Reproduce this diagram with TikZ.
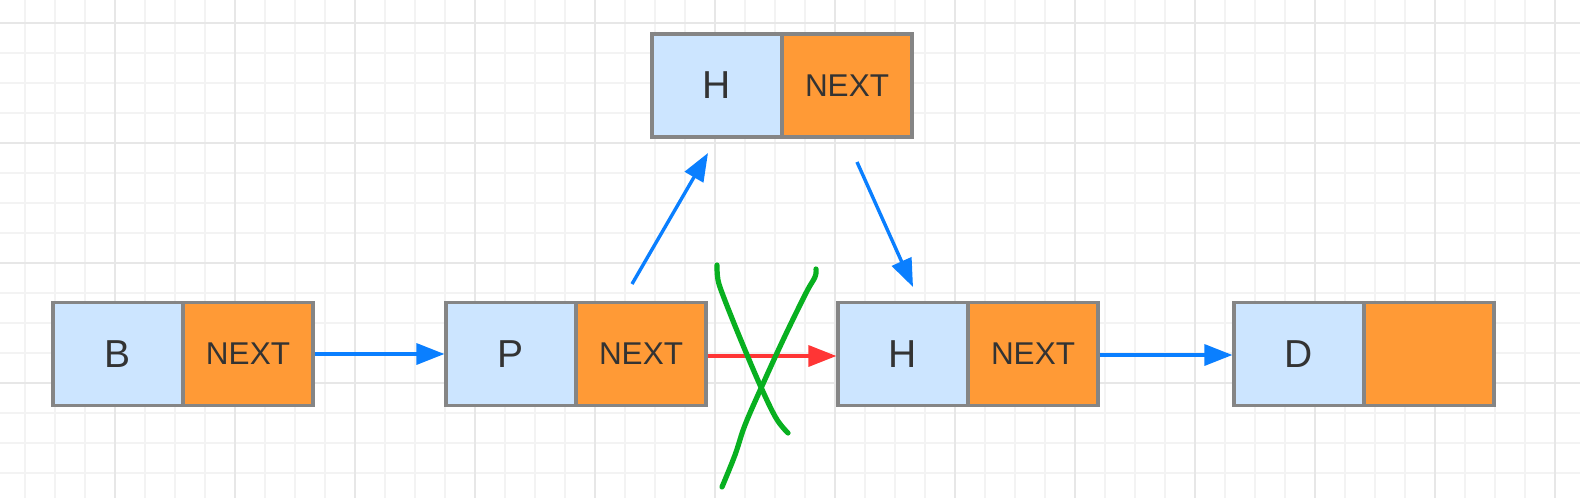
\documentclass[tikz,border=0pt]{standalone}
\usepackage{fontspec}
\setmainfont{Liberation Sans}
\usetikzlibrary{arrows.meta}
\definecolor{cellblue}{HTML}{CCE5FF}
\definecolor{cellorange}{HTML}{FF9A36}
\definecolor{cellborder}{HTML}{858585}
\definecolor{txt}{HTML}{333333}
\definecolor{arrblue}{HTML}{0A7FFF}
\definecolor{arrred}{HTML}{FF3535}
\definecolor{crossgreen}{HTML}{08B020}
\definecolor{gridminor}{HTML}{F3F3F3}
\definecolor{gridmajor}{HTML}{E7E7E7}
\tikzset{
  cell/.style={draw=cellborder, line width=3.2pt, minimum width=130pt, minimum height=103pt, inner sep=0pt, text=txt},
  datacell/.style={cell, fill=cellblue, font=\fontsize{39}{42}\selectfont},
  nextcell/.style={cell, fill=cellorange, font=\fontsize{31.5}{34}\selectfont},
  link/.style={line width=3.4pt, -{Triangle[length=28pt,width=21pt]}},
  bluelink/.style={link, draw=arrblue, arrblue},
  redlink/.style={link, draw=arrred, arrred},
  crossline/.style={draw=crossgreen, line width=5.2pt, line cap=round, line join=round},
}
\begin{document}
\begin{tikzpicture}[x=1pt,y=-1pt]
\useasboundingbox (0,0) rectangle (1580,498);
\fill[white] (0,0) rectangle (1580,498);
% grid
\foreach \x in {25,55,...,1580} \draw[gridminor, line width=1.8pt] (\x,0) -- (\x,498);
\foreach \y in {23,53,...,498} \draw[gridminor, line width=1.8pt] (0,\y) -- (1580,\y);
\foreach \x in {115,235,...,1580} \draw[gridmajor, line width=1.8pt] (\x,0) -- (\x,498);
\foreach \y in {23,143,...,498} \draw[gridmajor, line width=1.8pt] (0,\y) -- (1580,\y);
% nodes
\node[datacell] (Bd) at (118,354) {B};
\node[nextcell] (Bn) at (248,354) {NEXT};
\node[datacell] (Pd) at (511,354) {P};
\node[nextcell] (Pn) at (641,354) {NEXT};
\node[datacell] (Hd) at (903,354) {H};
\node[nextcell] (Hn) at (1033,354) {NEXT};
\node[datacell] (Dd) at (1299,354) {D};
\node[nextcell] (Dn) at (1429,354) {};
\node[datacell] (Td) at (717,85.5) {H};
\node[nextcell] (Tn) at (847,85.5) {NEXT};
% connectors
\draw[bluelink] (Bn.east) -- (Pd.west);
\draw[redlink] ([yshift=-2pt]Pn.east) -- ([yshift=-2pt]Hd.west);
\draw[bluelink] ([yshift=-1pt]Hn.east) -- ([yshift=-1pt]Dd.west);
\coordinate (upS) at (632,284);
\coordinate (upE) at (708,153);
\coordinate (dnS) at (857,162);
\coordinate (dnE) at (913,287);
\draw[bluelink] (upS) -- (upE);
\draw[bluelink] (dnS) -- (dnE);
% green cross
\draw[crossline] plot[smooth, tension=0.6] coordinates {(717,265) (718,280) (724,298) (740,338) (760,385) (776,418) (788,433)};
\draw[crossline] plot[smooth, tension=0.6] coordinates {(816,269) (815,277) (806,293) (784,338) (762,386) (745,425) (735,455) (722,487)};
\end{tikzpicture}
\end{document}
